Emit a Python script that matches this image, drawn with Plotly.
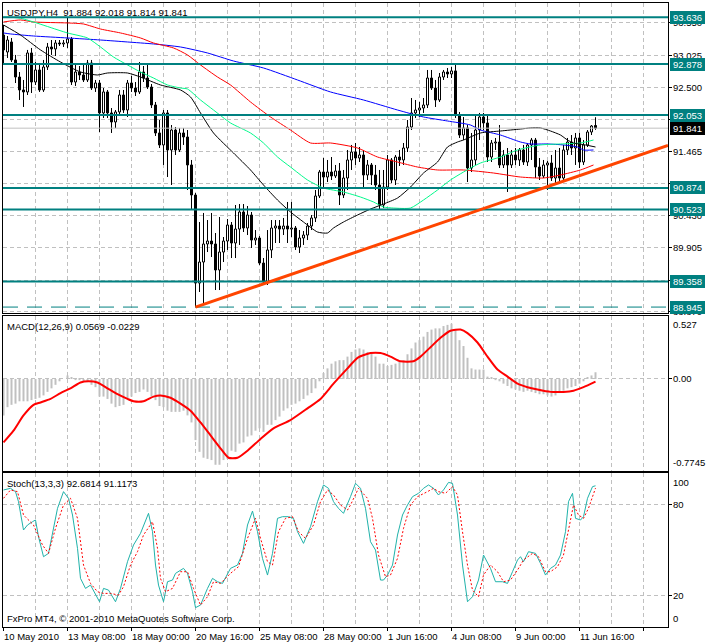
import plotly.graph_objects as go

# ---------------- text ----------------
chart_title = "USDJPY,H4  91.884 92.018 91.814 91.841"
macd_title = "MACD(12,26,9) 0.0569 -0.0229"
stoch_title = "Stoch(13,3,3) 92.6814 91.1173"
footer_text = "FxPro MT4, \u00a9 2001-2010 MetaQuotes Software Corp."

time_label_bars = [0, 16, 32, 48, 64, 80, 96, 112, 128, 144]
time_labels = ["10 May 2010", "13 May 08:00", "18 May 00:00", "20 May 16:00",
               "25 May 08:00", "28 May 00:00", "1 Jun 16:00", "4 Jun 08:00",
               "9 Jun 00:00", "11 Jun 16:00"]

# ---------------- price candles (H4) ----------------
bar_open = [93.349, 93.074, 93.236, 92.945, 92.669, 92.459, 92.427, 93.058, 92.588, 92.783,
            92.459, 92.831, 93.155, 93.123, 93.220, 93.204, 93.220, 93.285, 92.588, 92.750,
            92.702, 92.621, 92.896, 92.491, 92.572, 92.087, 92.427, 92.087, 91.941, 92.103,
            92.378, 92.135, 92.572, 92.491, 92.427, 92.750, 92.653, 92.507, 92.216, 91.763,
            91.569, 92.087, 91.488, 91.811, 91.488, 91.763, 91.698, 91.245, 90.759, 89.334,
            89.674, 89.966, 90.014, 89.966, 89.545, 89.836, 90.014, 90.273, 89.982, 90.208,
            90.484, 90.225, 90.435, 90.030, 90.063, 89.658, 89.351, 89.869, 90.225, 90.257,
            90.208, 90.257, 90.208, 90.225, 89.917, 90.063, 90.111, 90.257, 90.387, 90.743,
            91.131, 91.050, 91.131, 91.067, 91.148, 90.759, 91.034, 91.326, 91.455, 91.358,
            91.407, 91.083, 91.245, 91.083, 90.921, 90.597, 90.888, 91.326, 91.002, 91.374,
            91.326, 91.520, 91.860, 92.087, 92.135, 92.167, 92.216, 92.653, 92.491, 92.297,
            92.669, 92.750, 92.718, 92.767, 92.054, 91.730, 91.844, 91.196, 91.326, 91.811,
            92.022, 91.925, 91.374, 91.601, 91.617, 91.245, 91.407, 91.245, 91.407, 91.326,
            91.488, 91.293, 91.569, 91.649, 91.212, 91.067, 91.245, 91.277, 91.034, 91.196,
            91.034, 91.488, 91.617, 91.520, 91.682, 91.293, 91.569, 91.779, 91.884]
bar_high = [93.511, 93.333, 93.301, 93.026, 92.750, 92.621, 93.107, 93.139, 92.912, 92.896,
            92.945, 93.220, 93.268, 93.268, 93.268, 93.268, 93.630, 93.317, 92.880, 92.847,
            92.864, 92.945, 92.945, 92.621, 92.621, 92.491, 92.459, 92.167, 92.135, 92.459,
            92.459, 92.621, 92.686, 92.588, 92.912, 92.847, 92.864, 92.556, 92.265, 91.973,
            92.135, 92.135, 91.892, 91.860, 91.844, 91.844, 91.811, 91.326, 90.791, 90.322,
            90.468, 90.354, 90.468, 90.144, 90.403, 90.079, 90.370, 90.322, 90.597, 90.613,
            90.613, 90.581, 90.484, 90.192, 90.095, 89.739, 90.192, 90.354, 90.354, 90.354,
            90.387, 90.646, 90.646, 90.257, 90.192, 90.176, 90.306, 90.435, 90.840, 91.164,
            91.358, 91.326, 91.374, 91.245, 91.277, 91.164, 91.488, 91.569, 91.601, 91.536,
            91.488, 91.326, 91.277, 91.245, 91.164, 91.164, 91.407, 91.358, 91.407, 91.488,
            91.601, 91.973, 92.329, 92.297, 92.265, 92.329, 92.783, 92.783, 92.621, 92.734,
            92.783, 92.815, 92.831, 92.870, 92.103, 92.022, 91.892, 91.763, 92.054, 92.087,
            92.087, 92.070, 91.649, 91.682, 91.892, 91.488, 91.520, 91.488, 91.520, 91.520,
            91.569, 91.601, 91.682, 91.682, 91.358, 91.326, 91.310, 91.407, 91.488, 91.520,
            91.569, 91.682, 91.730, 91.763, 91.763, 91.649, 91.811, 91.892, 92.018]
bar_low = [92.864, 92.977, 92.912, 92.572, 92.297, 92.184, 92.378, 92.410, 92.540, 92.427,
           92.427, 92.783, 93.026, 93.009, 93.171, 93.155, 93.139, 92.540, 92.524, 92.621,
           92.588, 92.588, 92.459, 92.427, 91.779, 92.006, 92.006, 91.763, 91.844, 92.038,
           92.087, 92.022, 92.427, 92.362, 92.394, 92.588, 92.475, 92.167, 91.714, 91.520,
           91.245, 91.050, 90.921, 91.407, 91.455, 91.569, 90.840, 90.516, 88.945, 89.189,
           89.010, 89.836, 89.755, 89.221, 89.221, 89.674, 89.869, 89.739, 89.739, 89.950,
           90.160, 90.111, 89.901, 89.950, 89.626, 89.318, 89.302, 89.739, 89.982, 89.982,
           90.111, 89.982, 90.079, 89.869, 89.820, 89.950, 90.030, 90.192, 90.322, 90.710,
           90.888, 90.969, 91.002, 91.034, 90.597, 90.710, 90.840, 91.164, 91.245, 91.293,
           90.888, 91.002, 90.921, 90.840, 90.516, 90.548, 90.840, 90.953, 90.921, 91.229,
           91.245, 91.455, 91.811, 92.006, 92.022, 92.087, 92.167, 92.459, 92.184, 92.265,
           92.621, 92.653, 92.653, 92.006, 91.682, 91.649, 90.969, 91.131, 91.245, 91.649,
           91.811, 91.293, 91.293, 91.488, 91.196, 91.196, 90.808, 91.196, 91.245, 91.229,
           91.245, 91.229, 91.326, 91.034, 91.002, 91.034, 90.840, 90.986, 90.953, 90.953,
           91.002, 91.407, 91.407, 91.245, 91.196, 91.245, 91.536, 91.730, 91.814]
bar_close = [93.107, 93.268, 92.945, 92.669, 92.459, 92.427, 93.058, 92.588, 92.783, 92.459,
             92.831, 93.155, 93.123, 93.220, 93.204, 93.220, 93.285, 92.588, 92.750, 92.702,
             92.621, 92.896, 92.491, 92.572, 92.087, 92.427, 92.087, 91.941, 92.103, 92.378,
             92.135, 92.572, 92.491, 92.427, 92.750, 92.653, 92.507, 92.216, 91.763, 91.569,
             92.087, 91.488, 91.811, 91.488, 91.763, 91.698, 91.245, 90.759, 89.334, 89.674,
             89.966, 90.014, 89.966, 89.545, 89.836, 90.014, 90.273, 89.982, 90.208, 90.484,
             90.225, 90.435, 90.030, 90.063, 89.658, 89.351, 89.869, 90.225, 90.257, 90.208,
             90.257, 90.208, 90.225, 89.917, 90.063, 90.111, 90.257, 90.387, 90.743, 91.131,
             91.050, 91.131, 91.067, 91.148, 90.759, 91.034, 91.326, 91.455, 91.358, 91.407,
             91.083, 91.245, 91.083, 90.921, 90.597, 90.888, 91.326, 91.002, 91.374, 91.326,
             91.520, 91.860, 92.087, 92.135, 92.167, 92.216, 92.653, 92.491, 92.297, 92.669,
             92.750, 92.718, 92.767, 92.054, 91.730, 91.844, 91.196, 91.326, 91.811, 92.022,
             91.925, 91.374, 91.601, 91.617, 91.245, 91.407, 91.245, 91.407, 91.326, 91.488,
             91.293, 91.569, 91.649, 91.212, 91.067, 91.245, 91.277, 91.034, 91.196, 91.034,
             91.488, 91.617, 91.520, 91.682, 91.293, 91.569, 91.779, 91.876, 91.841]

# ---------------- moving averages (bar index, price) ----------------
ma_black_x = [0, 4.25, 9.25, 14.25, 19.25, 23.5, 26, 31, 34.25, 39.25, 44.25, 46.75, 49.25, 52.5, 57.5,
              61.75, 65, 68.5, 71.75, 75, 78.5, 81, 82.5, 85, 88.5, 91.75, 95, 98.5, 101.75, 105,
              108.5, 111, 113.5, 115, 119.25, 124.25, 129.25, 131.75, 134.25, 136.75, 139.25, 141, 142.5, 145.5, 148]
ma_black_y = [93.511, 93.349, 93.107, 92.912, 92.750, 92.702, 92.734, 92.734, 92.669, 92.540, 92.459, 92.346, 92.087, 91.763, 91.439,
              91.164, 90.921, 90.678, 90.484, 90.322, 90.160, 90.144, 90.225, 90.322, 90.435, 90.532, 90.613, 90.710, 90.888, 91.115,
              91.293, 91.536, 91.617, 91.649, 91.763, 91.795, 91.827, 91.844, 91.844, 91.795, 91.730, 91.649, 91.601, 91.569, 91.536]
ma_green_x = [0, 4.25, 16, 21, 24.25, 27.5, 31, 34.25, 37.5, 41, 44.25, 46, 49.25, 52.5, 56.75, 61.75, 65, 68.5, 71.75,
              76, 80, 85, 89.25, 92.5, 95, 97.5, 101.75, 105, 108.5, 111.75, 115, 119.25, 124.25, 128.5, 134.25, 139.25, 144.25, 147.5]
ma_green_y = [93.640, 93.620, 93.382, 93.301, 93.155, 92.993, 92.864, 92.750, 92.653, 92.540, 92.491, 92.475, 92.297, 92.135, 91.925,
              91.763, 91.601, 91.374, 91.212, 91.002, 90.872, 90.808, 90.726, 90.646, 90.565, 90.548, 90.548, 90.678, 90.840, 91.002,
              91.131, 91.277, 91.374, 91.488, 91.569, 91.585, 91.601, 91.649]
ma_blue_x = [0, 1.75, 7.5, 16, 24.25, 31, 37.5, 44.25, 51, 57.5, 65, 73.5, 81.75, 90, 98.5, 105, 111, 116.75,
             119.25, 124.25, 129.25, 131.75, 136, 140, 143.5, 145, 147.5]
ma_blue_y = [93.382, 93.366, 93.333, 93.301, 93.268, 93.236, 93.204, 93.155, 93.058, 92.928, 92.815, 92.621, 92.427, 92.297,
             92.135, 92.022, 91.957, 91.892, 91.811, 91.730, 91.617, 91.585, 91.585, 91.569, 91.536, 91.488, 91.488]
ma_red_x = [0, 4.25, 7.5, 16, 20, 24.25, 29.25, 34.25, 37.5, 42.5, 46, 49.25, 53.5, 56.75, 61.75, 66.75, 71.75, 76.75,
            81.75, 88.5, 93.5, 98.5, 103.5, 108.5, 115, 122.5, 129.25, 135, 139.25, 144.25, 147.5]
ma_red_y = [93.560, 93.592, 93.560, 93.544, 93.527, 93.446, 93.382, 93.301, 93.220, 93.139, 93.026, 92.864, 92.669, 92.540,
            92.265, 92.022, 91.811, 91.601, 91.601, 91.520, 91.374, 91.293, 91.212, 91.164, 91.164, 91.115, 91.050, 91.034,
            91.083, 91.164, 91.245]

# ---------------- horizontal levels / trend line ----------------
level_prices = [93.636, 92.878, 92.053, 90.874, 90.523, 89.358]
dashed_level = 88.945
current_price = 91.841
trend_x = [48, 166.125]
trend_y = [88.945, 91.562]
price_grid = [93.550, 93.025, 92.500, 91.975, 91.465, 90.940, 90.430, 89.905, 89.380, 88.870]
price_grid_labels = [93.550, 93.025, 92.500, 91.465, 90.940, 90.430, 89.905, 88.870]

# ---------------- MACD ----------------
macd_hist = [-0.31, -0.24, -0.22, -0.21, -0.19, -0.19, -0.19, -0.18, -0.17, -0.16,
             -0.14, -0.11, -0.08, -0.05, -0.02, 0.00, 0.03, 0.01, -0.01, -0.01,
             -0.02, -0.02, -0.05, -0.07, -0.15, -0.15, -0.17, -0.21, -0.24, -0.23,
             -0.22, -0.17, -0.15, -0.12, -0.11, -0.09, -0.11, -0.15, -0.18, -0.23,
             -0.24, -0.27, -0.28, -0.28, -0.28, -0.27, -0.31, -0.37, -0.52, -0.62,
             -0.67, -0.68, -0.69, -0.73, -0.73, -0.69, -0.68, -0.61, -0.62, -0.55,
             -0.54, -0.49, -0.48, -0.44, -0.42, -0.45, -0.39, -0.39, -0.35, -0.32,
             -0.27, -0.25, -0.22, -0.21, -0.19, -0.17, -0.14, -0.12, -0.08, -0.02,
             0.05, 0.09, 0.13, 0.15, 0.16, 0.16, 0.19, 0.23, 0.25, 0.26,
             0.25, 0.23, 0.22, 0.19, 0.13, 0.13, 0.11, 0.12, 0.13, 0.15,
             0.16, 0.21, 0.26, 0.31, 0.33, 0.36, 0.40, 0.42, 0.43, 0.43,
             0.45, 0.46, 0.47, 0.42, 0.33, 0.28, 0.18, 0.09, 0.08, 0.08,
             0.08, 0.02, 0.01, -0.01, -0.02, -0.04, -0.06, -0.08, -0.09, -0.10,
             -0.11, -0.10, -0.11, -0.12, -0.13, -0.13, -0.14, -0.15, -0.14, -0.12,
             -0.10, -0.08, -0.07, -0.06, -0.04, -0.02, 0.01, 0.03, 0.0569]
macd_sig_x = [0, 2.5, 5, 7.5, 9.25, 11.75, 14.25, 16.75, 19.25, 21.25, 23.5, 26, 28.5, 31, 32.5, 35, 37.5, 39.25,
              41.75, 44.25, 46.75, 49.25, 51.75, 54.25, 56.25, 58.5, 61, 64.25, 67.5, 71.75, 76, 79.25, 82.5, 86,
              88.5, 91.75, 94.25, 96.75, 99.25, 102.5, 104.25, 106.75, 109.25, 111.75, 114.25, 116, 118.5, 121,
              123.5, 126, 128.5, 131, 133.5, 136.75, 140, 142.5, 145, 148]
macd_sig_y = [-0.54, -0.44, -0.31, -0.22, -0.20, -0.17, -0.12, -0.08, -0.03, -0.02, -0.03, -0.08, -0.13, -0.17,
              -0.19, -0.19, -0.15, -0.14, -0.16, -0.21, -0.27, -0.37, -0.48, -0.59, -0.67, -0.67, -0.61, -0.51,
              -0.42, -0.35, -0.25, -0.17, -0.04, 0.09, 0.18, 0.22, 0.22, 0.19, 0.15, 0.15, 0.19, 0.27, 0.35,
              0.41, 0.42, 0.39, 0.31, 0.19, 0.08, 0.02, -0.04, -0.07, -0.09, -0.11, -0.11, -0.10, -0.07, -0.0229]
macd_max_label, macd_zero_label, macd_min_label = 0.527, 0.0, -0.7745

# ---------------- Stochastic ----------------
stoch_main_x = [0, 1.75, 3, 3.75, 5, 6, 7.25, 8, 8.75, 10, 11.25, 12.5, 13.5, 15, 16.25, 17.25, 18.5, 19.25, 20.5, 21.75,
                23, 24, 25, 26.25, 28, 29.25, 31, 32.5, 34.25, 36.25, 37.25, 38, 38.75, 40, 41, 42.25, 43, 45, 46, 47.25,
                48, 49.25, 51, 52.25, 53.5, 54.75, 56.75, 58.5, 59.75, 61, 62.25, 63.5, 64.75, 66, 67.25, 68.5, 69.75, 71.25, 72.5, 73.5,
                75, 76.75, 78.5, 80, 81.25, 82.5, 83.75, 85, 86.75, 88, 89.25, 90.5, 91.75, 93, 94.25, 95, 96, 97.25, 98.5, 99.75,
                101, 102.25, 103.75, 105, 106.25, 107.5, 108.75, 110, 111.25, 112.25, 113.5, 114.75, 116, 117.25, 118.75, 120,
                121.75, 123, 124.75, 126, 127.25, 128.5, 129.25, 130, 131.25, 133, 134.25, 135.5, 136.75, 138, 139.25, 140.5,
                141.25, 142.25, 143, 144.25, 145, 146, 147.25, 148]
stoch_main_y = [89.9, 91.0, 88.8, 82.2, 63.5, 66.8, 69.0, 70.1, 59.1, 45.9, 48.1, 64.6, 77.8, 88.8, 84.4, 73.4, 51.4, 31.6, 25.0, 27.2,
                20.6, 16.2, 25.0, 23.9, 16.2, 25.0, 42.6, 53.6, 61.3, 74.5, 62.4, 40.4, 27.2, 16.2, 29.4, 30.5, 34.9, 38.2, 34.9, 22.8,
                12.3, 14.0, 25.0, 31.6, 29.4, 28.3, 38.2, 40.4, 48.1, 66.8, 76.0, 62.4, 44.8, 33.8, 48.1, 71.2, 72.3, 72.3, 71.2, 62.4,
                54.7, 65.7, 82.2, 93.2, 91.0, 82.2, 77.8, 74.5, 85.5, 94.3, 91.0, 77.8, 55.8, 50.3, 30.5, 30.5, 33.8, 40.4, 60.2, 73.4,
                80.0, 85.5, 87.7, 91.0, 93.2, 91.0, 86.6, 89.9, 94.9, 94.3, 73.4, 40.4, 16.2, 19.5, 30.5, 47.0, 38.2, 29.4, 29.4, 28.3,
                36.0, 43.7, 45.9, 42.6, 49.2, 48.1, 41.5, 33.8, 38.2, 40.4, 47.0, 62.4, 82.2, 87.7, 71.2, 70.1, 72.3, 84.4, 92.1, 92.68]
stoch_sig_x = [0, 1.75, 3.5, 5, 7.5, 9.75, 11.25, 13, 15, 16.75, 18.5, 20, 21.75, 23.5, 25, 26.75, 28.75, 30, 31.75, 33.5,
               35, 37.25, 38.5, 39.25, 40.5, 42.25, 44.25, 46, 47.5, 49.25, 51, 52.5, 54.25, 56.75, 58.75, 61, 63, 64.25, 66,
               67.25, 68.75, 70.5, 72.25, 73.75, 75.5, 77.5, 79.25, 81, 82.5, 84.25, 86, 86.75, 88.75, 91, 92.25, 93.75, 95.5,
               96.75, 98.5, 100, 101.75, 103.5, 106, 107.5, 108.75, 110.5, 112.25, 113.5, 114.75, 116, 117.25, 118.75, 120,
               121.75, 123.5, 125, 126.75, 128.5, 130, 132.25, 133.75, 135.5, 136.75, 138.5, 140, 141.25, 142.5, 143.75, 145,
               146.25, 148]
stoch_sig_y = [84.4, 89.9, 88.8, 73.4, 66.8, 53.6, 48.1, 64.6, 80.0, 84.4, 71.2, 40.4, 28.3, 22.8, 21.7, 21.7, 20.6, 26.1, 40.4, 49.2,
               60.2, 69.0, 51.4, 31.6, 22.8, 25.0, 36.0, 36.0, 25.0, 14.0, 19.5, 29.4, 28.3, 34.9, 39.3, 58.0, 71.2, 58.0, 42.6,
               40.4, 62.4, 71.2, 72.3, 62.4, 58.0, 66.8, 82.2, 89.9, 86.6, 80.0, 76.7, 80.0, 91.0, 84.4, 71.2, 47.0, 32.7,
               33.8, 44.8, 64.6, 80.0, 85.5, 88.8, 91.0, 88.8, 87.7, 92.1, 86.6, 62.4, 40.4, 23.9, 19.5, 33.8,
               40.4, 36.0, 29.4, 30.5, 37.1, 43.7, 48.1, 45.9, 36.0, 36.0, 39.3, 47.0, 62.4, 80.0, 73.4, 71.2,
               77.8, 91.12]
stoch_labels = [100, 80, 20, 0]

# ---------------- styling ----------------
FONT = "Liberation Sans, Arial, sans-serif"
FS = 9.5
GRID = "#C0C0C0"
GDASH = "4px,3px"
TEAL = "#008080"
x_range = [-0.125, 166.125]
price_range = [88.849, 93.867]
macd_range = [-0.783, 0.5355]
stoch_range = [-0.46, 101.1]
dom_price = [0.50321, 1.0]
dom_macd = [0.25, 0.49840]
dom_stoch = [0.0, 0.24679]

bars = list(range(len(bar_open)))
body_base = [min(o, c) for o, c in zip(bar_open, bar_close)]
body_len = [abs(c - o) for o, c in zip(bar_open, bar_close)]
body_fill = ["white" if c >= o else "black" for o, c in zip(bar_open, bar_close)]
wick_x, wick_y = [], []
for i, (o, h, l, c) in enumerate(zip(bar_open, bar_high, bar_low, bar_close)):
    wick_x += [i, i, None, i, i, None]
    wick_y += [h, max(o, c), None, min(o, c), l, None]

fig = go.Figure()
fig.add_trace(go.Scatter(x=wick_x, y=wick_y, mode="lines", line=dict(color="black", width=1),
                         xaxis="x", yaxis="y", hoverinfo="skip"))
fig.add_trace(go.Bar(x=bars, y=body_len, base=body_base, width=0.5,
                     marker=dict(color=body_fill, line=dict(color="black", width=1)),
                     xaxis="x", yaxis="y"))
for mx, my, col in [(ma_blue_x, ma_blue_y, "#0000FF"), (ma_red_x, ma_red_y, "#FF0000"),
                    (ma_green_x, ma_green_y, "#00FA8A"), (ma_black_x, ma_black_y, "#000000")]:
    fig.add_trace(go.Scatter(x=mx, y=my, mode="lines", line=dict(color=col, width=1, shape="spline", smoothing=0.6),
                             xaxis="x", yaxis="y"))

# MACD
fig.add_trace(go.Bar(x=bars, y=macd_hist, width=0.5, marker=dict(color="#C0C0C0", line=dict(width=0)),
                     xaxis="x2", yaxis="y2"))
fig.add_trace(go.Scatter(x=macd_sig_x, y=macd_sig_y, mode="lines",
                         line=dict(color="#FF0000", width=2, shape="spline", smoothing=0.6),
                         xaxis="x2", yaxis="y2"))
# Stochastic
fig.add_trace(go.Scatter(x=stoch_main_x, y=stoch_main_y, mode="lines", line=dict(color="#20B2AA", width=1),
                         xaxis="x3", yaxis="y3"))
fig.add_trace(go.Scatter(x=stoch_sig_x, y=stoch_sig_y, mode="lines",
                         line=dict(color="#FF0000", width=1, dash="2px,2px"), xaxis="x3", yaxis="y3"))

shapes = []
shapes.append(dict(type="line", xref="x domain", x0=0, x1=1, yref="y", y0=current_price, y1=current_price,
                   line=dict(color="#C0C0C0", width=1)))
for lv in level_prices:
    shapes.append(dict(type="line", xref="x domain", x0=0, x1=1, yref="y", y0=lv, y1=lv,
                       line=dict(color=TEAL, width=2)))
shapes.append(dict(type="line", xref="x domain", x0=0, x1=1, yref="y", y0=dashed_level, y1=dashed_level,
                   line=dict(color=TEAL, width=1, dash="15px,9px")))
shapes.append(dict(type="line", xref="x", yref="y", x0=trend_x[0], y0=trend_y[0], x1=trend_x[1], y1=trend_y[1],
                   line=dict(color="#FF4500", width=3)))

ann = []
def txt(text, x, y, xref="paper", yref="paper", xanchor="left", yanchor="middle", xshift=0, yshift=0, **kw):
    d = dict(text=text, x=x, y=y, xref=xref, yref=yref, xanchor=xanchor, yanchor=yanchor,
             xshift=xshift, yshift=yshift, showarrow=False, font=dict(family=FONT, size=FS, color="black"))
    d.update(kw)
    return d

ann.append(txt(chart_title, 0, 1, yanchor="top", xshift=2, yshift=-2))
ann.append(txt(macd_title, 0, dom_macd[1], yanchor="top", xshift=2, yshift=-3))
ann.append(txt(stoch_title, 0, dom_stoch[1], yanchor="top", xshift=2, yshift=-3))
ann.append(txt(footer_text, 0, 0, yanchor="bottom", xshift=2, yshift=1))
for b, lab in zip(time_label_bars, time_labels):
    ann.append(txt(lab, b, 0, xref="x3", yanchor="top", xshift=-2, yshift=-2))
for v in price_grid_labels:
    ann.append(txt(f"{v:.3f}", 1, v, yref="y", xshift=3))
ann.append(txt(f"{macd_max_label:.3f}", 1, macd_max_label, yref="y2", yanchor="top", xshift=3))
ann.append(txt(f"{macd_zero_label:.2f}", 1, macd_zero_label, yref="y2", xshift=3))
ann.append(txt(f"{macd_min_label}", 1, macd_min_label, yref="y2", yanchor="bottom", xshift=3))
for v in stoch_labels:
    ya = "top" if v == 100 else ("bottom" if v == 0 else "middle")
    ann.append(txt(str(v), 1, v, yref="y3", yanchor=ya, xshift=3))
for lv in level_prices + [dashed_level]:
    ann.append(txt(f"{lv:.3f}", 1, lv, yref="y", xshift=2, bgcolor=TEAL, borderpad=1, borderwidth=0,
                   width=33, height=11, font=dict(family=FONT, size=FS, color="white")))
ann.append(txt(f"{current_price:.3f}", 1, current_price, yref="y", xshift=2, bgcolor="black", borderpad=1,
               borderwidth=0, width=33, height=11, font=dict(family=FONT, size=FS, color="white")))

def xaxis(anchor, ticks=False):
    d = dict(domain=[0, 1], range=x_range, anchor=anchor, showticklabels=False, tickmode="linear",
             tick0=0, dtick=8, showgrid=True, gridcolor=GRID, griddash=GDASH, gridwidth=1,
             showline=True, mirror=True, linecolor="black", linewidth=1, zeroline=False, ticks="",
             automargin=False, fixedrange=True)
    if ticks:
        d.update(dtick=16, ticks="outside", ticklen=3, tickcolor="black",
                 minor=dict(tick0=0, dtick=8, showgrid=True, gridcolor=GRID, griddash=GDASH, ticks=""))
    return d

def yaxis(domain, rng, anchor, tickvals):
    return dict(domain=domain, range=rng, anchor=anchor, side="right", tickvals=tickvals,
                showticklabels=False, ticks="outside", ticklen=3, tickcolor="black",
                showgrid=True, gridcolor=GRID, griddash=GDASH, gridwidth=1,
                showline=True, mirror=True, linecolor="black", linewidth=1, zeroline=False,
                automargin=False, fixedrange=True)

fig.update_layout(
    width=706, height=644, autosize=False,
    margin=dict(l=3, r=38, t=3, b=17, pad=0),
    paper_bgcolor="white", plot_bgcolor="white",
    showlegend=False, barmode="overlay", hovermode=False,
    xaxis=xaxis("y"), xaxis2=xaxis("y2"), xaxis3=xaxis("y3", ticks=True),
    yaxis=yaxis(dom_price, price_range, "x", price_grid),
    yaxis2=yaxis(dom_macd, macd_range, "x2", [0]),
    yaxis3=yaxis(dom_stoch, stoch_range, "x3", [20, 80]),
    shapes=shapes, annotations=ann,
    font=dict(family=FONT, size=FS, color="black"),
)
fig.update_xaxes(matches="x")

fig.write_html("out.html", config={"displayModeBar": False},
               post_script="document.body.style.margin='0';document.body.style.overflow='hidden';")
